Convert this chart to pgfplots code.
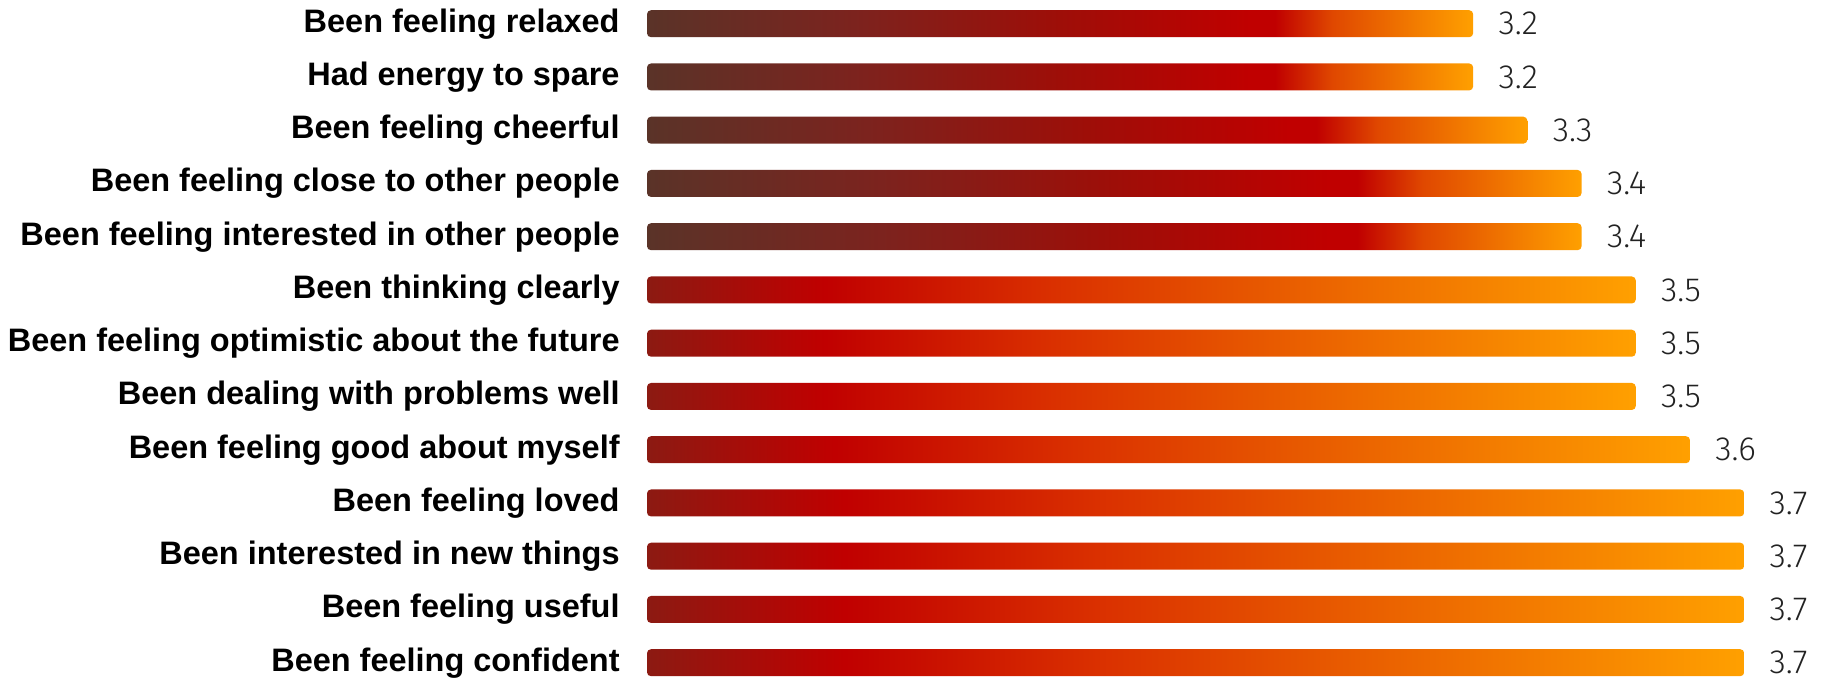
\documentclass[border=0pt]{standalone}
\usepackage{pgfplots}
\pgfplotsset{compat=1.18}
\usepackage{fontspec}
\setmainfont{Liberation Sans}
\newfontfamily\valfont{Fira Sans Light}
\definecolor{gA0}{HTML}{5A3328}
\definecolor{gA1}{HTML}{7C231E}
\definecolor{gA2}{HTML}{9E0E08}
\definecolor{gRed}{HTML}{C00000}
\definecolor{gRO}{HTML}{E04800}
\definecolor{gOr}{HTML}{FFA000}
\definecolor{gB0}{HTML}{8C1A12}
\definecolor{gB2}{HTML}{DA3000}
\definecolor{valtxt}{HTML}{222222}
\pgfdeclarehorizontalshading{topgrad}{100bp}{color(0bp)=(gA0); color(25bp)=(gA0); color(37.5bp)=(gA1); color(50bp)=(gA2); color(61.5bp)=(gRed); color(63bp)=(gRed); color(66.5bp)=(gRO); color(75bp)=(gOr); color(100bp)=(gOr)}
\pgfdeclarehorizontalshading{botgrad}{100bp}{color(0bp)=(gB0); color(25bp)=(gB0); color(34bp)=(gRed); color(45.5bp)=(gB2); color(75bp)=(gOr); color(100bp)=(gOr)}
\begin{document}
\begin{tikzpicture}
\useasboundingbox (0,0) rectangle (912.5bp,340bp);
\begin{axis}[
  at={(323.5bp,0bp)}, anchor=south west,
  width=589bp, height=340bp, scale only axis,
  xmin=0.008, xmax=2.181,
  ymin=-0.445, ymax=12.325, y dir=reverse,
  axis line style={draw=none},
  xtick=\empty,
  ytick={0,...,12},
  major tick length=0pt,
  yticklabels={Been feeling relaxed, Had energy to spare, Been feeling cheerful, Been feeling close to other people, Been feeling interested in other people, Been thinking clearly, Been feeling optimistic about the future, Been dealing with problems well, Been feeling good about myself, Been feeling loved, Been interested in new things, Been feeling useful, Been feeling confident},
  yticklabel style={font=\bfseries\fontsize{16.3}{18}\selectfont, inner sep=0pt, xshift=-13.5bp, text=black},
  nodes near coords,
  point meta=explicit,
  nodes near coords style={anchor=west, inner sep=0pt, xshift=12.5bp, font=\valfont\fontsize{16.8}{18}\selectfont, text=valtxt},
  /pgf/number format/.cd, fixed, precision=1, fixed zerofill, assume math mode=true,
  /pgfplots/.cd,
  every axis plot/.append style={xbar, bar shift=0pt, bar width=13.5bp, draw=none, rounded corners=2bp},
  x filter/.expression={x-1.668},
]
% top group (value 3.2, 3.3, 3.4)
\addplot[shading=topgrad] coordinates {(3.2,0)[3.2] (3.2,1)[3.2]};
\addplot[shading=topgrad] coordinates {(3.3,2)[3.3]};
\addplot[shading=topgrad] coordinates {(3.4,3)[3.4] (3.4,4)[3.4]};
% bottom group
\addplot[shading=botgrad] coordinates {(3.5,5)[3.5] (3.5,6)[3.5] (3.5,7)[3.5]};
\addplot[shading=botgrad] coordinates {(3.6,8)[3.6]};
\addplot[shading=botgrad] coordinates {(3.7,9)[3.7] (3.7,10)[3.7] (3.7,11)[3.7] (3.7,12)[3.7]};
\end{axis}
\end{tikzpicture}
\end{document}
